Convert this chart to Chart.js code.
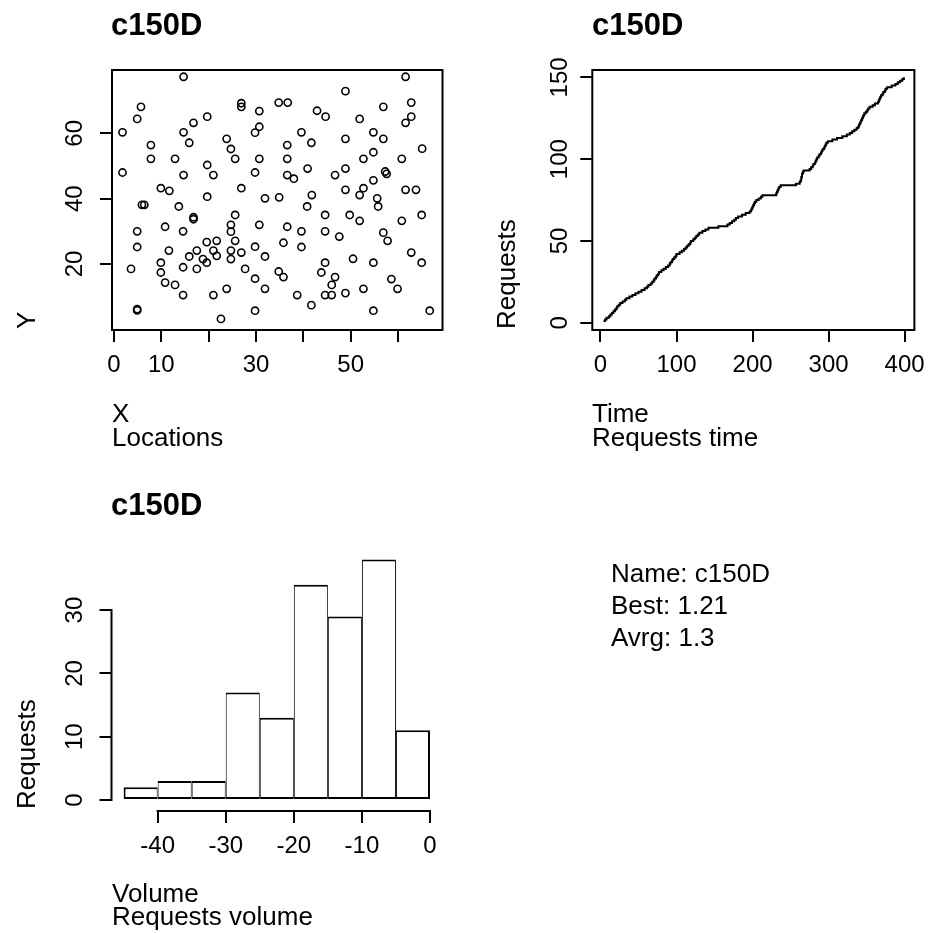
<!DOCTYPE html>
<html>
<head>
<meta charset="utf-8">
<script src="https://cdn.jsdelivr.net/npm/chart.js"></script>
<style>
html, body { margin: 0; padding: 0; background: #fff; }
#page { position: relative; width: 934px; height: 933px; overflow: hidden;
  font-family: "Liberation Sans", Arial, sans-serif; color: #000; }
canvas { position: absolute; left: 0; top: 0; }
.t { position: absolute; white-space: nowrap; line-height: 1; font-size: 26px; }
.main { font-weight: bold; font-size: 31px; }
.rot { transform-origin: 0 0; transform: rotate(-90deg); }
.info { font-size: 26px; }
</style>
</head>
<body>
<div id="page">
  <canvas id="locChart" width="934" height="933"></canvas>
  <canvas id="timeChart" width="934" height="933"></canvas>
  <canvas id="volChart" width="934" height="933"></canvas>

  <div class="t main" style="left:111px; top:9px;">c150D</div>
  <div class="t" style="left:112px; top:400px;">X</div>
  <div class="t" style="left:112px; top:424px;">Locations</div>
  <div class="t rot" style="left:13px; top:329px;">Y</div>

  <div class="t main" style="left:592px; top:9px;">c150D</div>
  <div class="t" style="left:592px; top:400px;">Time</div>
  <div class="t" style="left:592px; top:424px;">Requests time</div>
  <div class="t rot" style="left:493px; top:329px;">Requests</div>

  <div class="t main" style="left:111px; top:489px;">c150D</div>
  <div class="t" style="left:112px; top:880px;">Volume</div>
  <div class="t" style="left:112px; top:903px;">Requests volume</div>
  <div class="t rot" style="left:13px; top:809px;">Requests</div>

  <div class="t info" style="left:611px; top:560px;">Name: c150D</div>
  <div class="t info" style="left:611px; top:592px;">Best: 1.21</div>
  <div class="t info" style="left:611px; top:624px;">Avrg: 1.3</div>
</div>
<script>
// locations
var locX = [14.7, 5.7, 4.9, 1.8, 7.8, 7.8, 1.8, 9.9, 11.7, 14.7, 12.9, 14.7, 15.9, 16.8, 19.7, 19.7, 21.0, 19.7, 23.8, 24.7,
  25.6, 26.9, 26.9, 30.7, 30.7, 29.8, 30.7, 29.8, 26.9, 31.9,
  61.6, 48.9, 34.8, 36.7, 42.9, 44.7, 56.9, 62.8, 62.8, 61.6, 51.9, 39.6, 41.7, 54.8, 56.9, 48.9, 36.6, 65.1, 36.6, 54.8,
  52.7, 60.8, 40.9, 36.6, 38.0, 48.9, 46.7, 54.8, 57.3, 57.6, 48.9, 52.7, 51.9, 61.6, 63.8, 41.8, 34.9, 55.6,
  5.9, 6.4, 13.7, 16.8, 16.8, 25.6, 24.7, 24.7, 30.7, 4.9, 10.8, 14.6, 4.9, 11.6, 19.6, 21.7, 25.6, 21.0, 21.7, 24.7,
  24.7, 26.9, 29.8, 31.9, 17.5, 15.9, 18.8, 19.6, 3.6, 9.9, 9.9, 14.6, 17.5, 27.7, 10.8, 12.9, 14.6, 21.0, 23.8, 29.8,
  31.9, 4.9, 4.9, 29.8, 22.6,
  55.8, 40.8, 44.6, 49.8, 51.9, 60.8, 65.0, 36.6, 39.6, 44.6, 47.6, 56.9, 57.8, 35.8, 39.6, 62.8, 65.0, 50.5, 54.8, 44.6,
  34.8, 35.8, 43.8, 46.7, 46.0, 38.7, 44.6, 46.0, 48.9, 52.7, 58.6, 59.9, 41.7, 54.8, 66.7];
var locY = [77.3, 68.1, 64.4, 60.3, 56.4, 52.2, 48.0, 43.2, 42.4, 47.2, 52.2, 60.3, 57.1, 63.2, 65.1, 50.3, 47.2, 40.6, 58.3, 55.2,
  52.2, 69.2, 68.1, 66.8, 62.0, 60.2, 52.2, 48.0, 43.2, 40.1,
  77.3, 72.9, 69.4, 69.4, 66.9, 65.1, 68.1, 69.4, 65.1, 63.2, 64.4, 60.3, 57.1, 60.3, 58.3, 58.3, 56.4, 55.3, 52.2, 54.2,
  52.2, 52.2, 49.2, 47.2, 46.1, 49.2, 47.2, 45.6, 48.3, 47.6, 42.7, 43.2, 41.1, 42.7, 42.7, 41.1, 40.4, 40.1,
  38.1, 38.1, 37.6, 34.3, 33.7, 35.0, 32.0, 29.9, 32.0, 30.0, 31.4, 30.0, 25.2, 24.1, 26.7, 27.1, 27.1, 24.1, 22.5, 24.1,
  21.5, 23.5, 25.3, 22.3, 24.1, 22.3, 21.5, 20.4, 18.5, 20.4, 17.4, 19.0, 18.5, 18.5, 14.3, 13.6, 10.5, 10.5, 12.4, 15.5,
  12.4, 6.2, 5.8, 5.7, 3.2,
  37.6, 37.6, 35.0, 35.0, 33.2, 33.2, 35.0, 31.4, 30.0, 30.0, 28.4, 29.6, 27.1, 26.5, 25.2, 23.5, 20.4, 21.6, 20.4, 20.4,
  17.7, 16.0, 17.4, 16.0, 13.6, 10.5, 10.5, 10.5, 11.1, 12.4, 15.4, 12.4, 7.4, 5.7, 5.7];
var locXTicks = [0, 10, 20, 30, 40, 50, 60];
var locXLabels = ['0', '10', '', '30', '', '50', ''];
var locYTicks = [20, 40, 60];

// arrival time of each request (the step curve)
var reqTimes = [4, 6, 8, 11, 13, 15, 17, 19, 21, 22, 24, 26, 29, 32, 34, 38, 42, 46, 50, 54,
  58, 61, 63, 66, 68, 70, 71, 73, 74, 76, 77, 80, 83, 86, 89, 91, 92, 94, 95, 97,
  99, 100, 104, 107, 110, 112, 114, 116, 118, 119, 122, 124, 126, 128, 130, 134, 138, 142, 155, 167,
  170, 173, 176, 178, 181, 186, 191, 196, 198, 199, 200, 201, 202, 203, 205, 208, 211, 213, 231, 232,
  233, 234, 235, 237, 257, 262, 263, 264, 264, 265, 265, 266, 267, 275, 277, 279, 280, 282, 283, 284,
  285, 287, 288, 290, 291, 292, 294, 295, 296, 297, 299, 305, 311, 318, 324, 328, 331, 334, 337, 339,
  340, 341, 342, 343, 344, 345, 346, 347, 349, 351, 352, 354, 358, 361, 365, 366, 367, 368, 369, 371,
  372, 374, 375, 377, 383, 388, 391, 394, 397, 399];
var timeXTicks = [0, 100, 200, 300, 400];
var reqYTicks = [0, 50, 100, 150];

// volume histogram
var volBinStart = [-45, -40, -35, -30, -25, -20, -15, -10, -5];
var volCounts = [2, 3, 3, 17, 13, 34, 29, 38, 11];
var volXTicks = [-40, -30, -20, -10, 0];
var volYTicks = [0, 10, 20, 30];

var FONT = "'Liberation Sans', Arial, sans-serif";
var AXIS = 50;

function pad(left, top, right, bottom) {
  return { left: left - AXIS, top: top, right: 934 - right, bottom: 933 - bottom - AXIS };
}

function axis(pos, min, max, ticks, labels, tickPad) {
  var left = pos === 'left';
  return {
    type: 'linear', position: pos, min: min, max: max, offset: false,
    afterBuildTicks: function (s) { s.ticks = ticks.map(function (v) { return { value: v }; }); },
    afterFit: function (s) { if (left) s.width = AXIS; else s.height = AXIS; },
    grid: { display: true, offset: false, drawOnChartArea: false, drawTicks: true, tickLength: 12, color: '#000', lineWidth: 2 },
    border: { display: false },
    ticks: {
      autoSkip: false, color: '#000', font: { family: FONT, size: 24 }, padding: tickPad,
      minRotation: left ? 90 : 0, maxRotation: left ? 90 : 0,
      crossAlign: left ? 'center' : 'near',
      callback: function (v, i) { return labels ? labels[i] : String(v); }
    }
  };
}

var boxPlugin = {
  id: 'box',
  afterDraw: function (chart) {
    var a = chart.chartArea, ctx = chart.ctx;
    ctx.save();
    ctx.strokeStyle = '#000';
    ctx.lineWidth = 2;
    ctx.strokeRect(a.left, a.top, a.right - a.left, a.bottom - a.top);
    ctx.restore();
  }
};

var axisLinePlugin = {
  id: 'axisLines',
  afterDraw: function (chart) {
    var a = chart.chartArea, ctx = chart.ctx, sx = chart.scales.x, sy = chart.scales.y;
    ctx.save();
    ctx.strokeStyle = '#000';
    ctx.lineWidth = 2;
    ctx.beginPath();
    ctx.moveTo(sx.getPixelForValue(sx.ticks[0].value) - 1, a.bottom);
    ctx.lineTo(sx.getPixelForValue(sx.ticks[sx.ticks.length - 1].value) + 1, a.bottom);
    ctx.moveTo(a.left, sy.getPixelForValue(sy.ticks[0].value) + 1);
    ctx.lineTo(a.left, sy.getPixelForValue(sy.ticks[sy.ticks.length - 1].value) - 1);
    ctx.stroke();
    ctx.restore();
  }
};

var common = {
  responsive: false, animation: false, events: [],
  plugins: { legend: { display: false }, tooltip: { enabled: false } }
};

// Locations
new Chart(document.getElementById('locChart'), {
  type: 'scatter',
  data: {
    datasets: [{
      data: locX.map(function (x, i) { return { x: x, y: locY[i] }; }),
      pointStyle: 'circle', pointRadius: 3.6, pointBorderWidth: 1.6,
      pointBackgroundColor: 'rgba(0,0,0,0)', pointBorderColor: '#000'
    }]
  },
  options: Object.assign({}, common, {
    layout: { padding: pad(112, 70, 442.5, 330) },
    scales: {
      x: axis('bottom', -0.42, 69.4, locXTicks, locXLabels, 9),
      y: axis('left', -0.2, 79.37, locYTicks, null, 11)
    }
  }),
  plugins: [boxPlugin]
});

// Requests over time
new Chart(document.getElementById('timeChart'), {
  type: 'line',
  data: {
    datasets: [{
      data: reqTimes.map(function (t, i) { return { x: t, y: i + 1 }; }),
      stepped: 'before', borderColor: '#000', borderWidth: 2, pointRadius: 0, fill: false
    }]
  },
  options: Object.assign({}, common, {
    layout: { padding: pad(592.3, 70, 922.7, 330) },
    scales: {
      x: axis('bottom', -10.77, 412.8, timeXTicks, null, 9),
      y: axis('left', -4.46, 154.5, reqYTicks, null, 0)
    }
  }),
  plugins: [boxPlugin]
});

// Volume histogram
new Chart(document.getElementById('volChart'), {
  type: 'bar',
  data: {
    datasets: [{
      data: volBinStart.map(function (s, i) { return { x: s + 2.5, y: volCounts[i] }; }),
      backgroundColor: '#fff', borderColor: '#000', borderSkipped: false,
      borderWidth: function (c) {
        return { top: 2, bottom: 2, left: c.dataIndex === 0 ? 2 : 1, right: c.dataIndex === volCounts.length - 1 ? 2 : 1 };
      },
      barPercentage: 1, categoryPercentage: 1, inflateAmount: 0
    }]
  },
  options: Object.assign({}, common, {
    layout: { padding: pad(111.5, 550, 442.3, 811) },
    scales: {
      x: axis('bottom', -46.78, 1.81, volXTicks, null, 9),
      y: axis('left', -1.74, 39.5, volYTicks, null, 11)
    }
  }),
  plugins: [axisLinePlugin]
});
</script>
</body>
</html>
